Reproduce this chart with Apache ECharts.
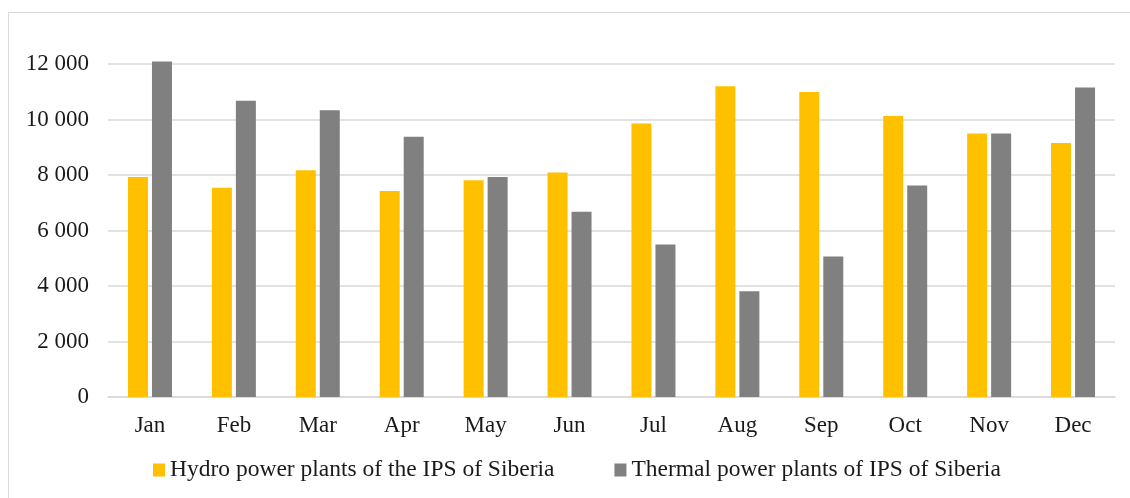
<!DOCTYPE html>
<html>
<head>
<meta charset="utf-8">
<script src="https://cdn.jsdelivr.net/npm/echarts@6/dist/echarts.min.js"></script>
<style>
html,body{margin:0;padding:0;background:#fff;}
#chart{width:1130px;height:498px;}
</style>
</head>
<body>
<div id="chart"></div>
<script>
const months = ['Jan','Feb','Mar','Apr','May','Jun','Jul','Aug','Sep','Oct','Nov','Dec'];
const hydro = [7930, 7540, 8170, 7420, 7810, 8090, 9860, 11200, 10990, 10130, 9500, 9150];
const thermal = [12090, 10680, 10330, 9380, 7930, 6680, 5500, 3810, 5060, 7620, 9500, 11150];
const seriesNames = ['Hydro power plants of the IPS of Siberia', 'Thermal power plants of IPS of Siberia'];
const colors = ['#FFC000', '#808080'];

const fmt = v => {
  const s = String(Math.round(v));
  return s.replace(/\B(?=(\d{3})+(?!\d))/g, ' ');
};
const font = '"Liberation Serif", "Times New Roman", serif';
const textColor = '#1a1a1a';

const chart = echarts.init(document.getElementById('chart'), null, {renderer: 'canvas'});
chart.setOption({
  animation: false,
  backgroundColor: '#fff',
  graphic: [{
    type: 'rect',
    shape: {x: 8.5, y: 12.5, width: 1200, height: 500},
    style: {fill: 'none', stroke: '#d9d9d9', lineWidth: 1},
    silent: true
  }],
  grid: {left: 108, right: 15, top: 64, bottom: 101, containLabel: false},
  legend: {
    top: 453,
    left: 148,
    itemWidth: 12,
    itemHeight: 13,
    itemGap: 60,
    icon: 'rect',
    textStyle: {fontFamily: font, fontSize: 23.5, color: textColor},
    data: seriesNames
  },
  xAxis: {
    type: 'category',
    data: months,
    axisLine: {show: true, lineStyle: {color: '#d9d9d9', width: 1.5}},
    axisTick: {show: false},
    axisLabel: {fontFamily: font, fontSize: 23, color: textColor, margin: 17}
  },
  yAxis: {
    type: 'value',
    min: 0,
    max: 12000,
    interval: 2000,
    axisLine: {show: false},
    axisTick: {show: false},
    splitLine: {lineStyle: {color: '#d9d9d9', width: 1.5}},
    axisLabel: {fontFamily: font, fontSize: 23, color: textColor, margin: 19, formatter: fmt}
  },
  series: [
    {name: seriesNames[0], type: 'bar', data: hydro, barWidth: 20, barGap: '20%', clip: false,
     itemStyle: {color: colors[0]}},
    {name: seriesNames[1], type: 'bar', data: thermal, barWidth: 20, barGap: '20%', clip: false,
     itemStyle: {color: colors[1]}}
  ]
});
</script>
</body>
</html>
